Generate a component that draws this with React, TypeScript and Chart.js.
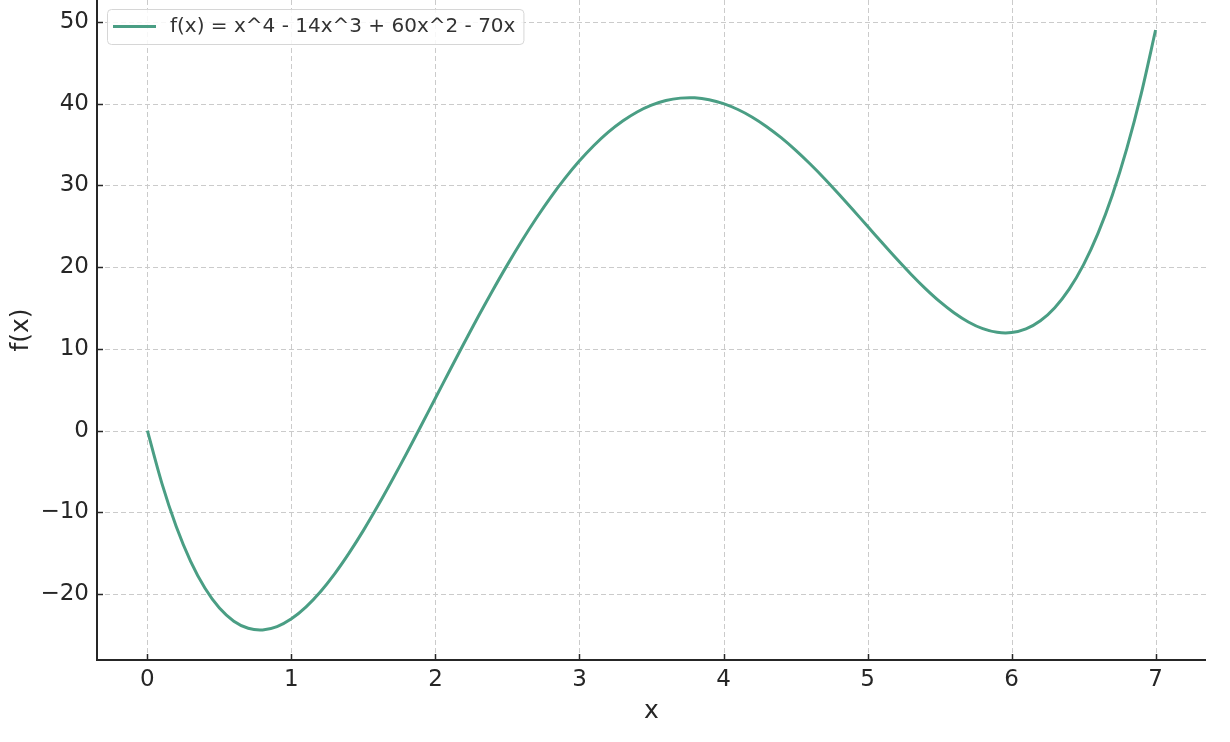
import React, { useEffect, useRef } from "react";
import { Chart, registerables } from "chart.js";

Chart.register(...registerables);

const xValues = [
  0, 0.1, 0.2, 0.3, 0.4, 0.5, 0.6, 0.7, 0.8, 0.9,
  1.0, 1.1, 1.2, 1.3, 1.4, 1.5, 1.6, 1.7, 1.8, 1.9,
  2.0, 2.1, 2.2, 2.3, 2.4, 2.5, 2.6, 2.7, 2.8, 2.9,
  3.0, 3.1, 3.2, 3.3, 3.4, 3.5, 3.6, 3.7, 3.8, 3.9,
  4.0, 4.1, 4.2, 4.3, 4.4, 4.5, 4.6, 4.7, 4.8, 4.9,
  5.0, 5.1, 5.2, 5.3, 5.4, 5.5, 5.6, 5.7, 5.8, 5.9,
  6.0, 6.1, 6.2, 6.3, 6.4, 6.5, 6.6, 6.7, 6.8, 6.9,
  7.0,
];

const fValues = [
  0, -6.41, -11.71, -15.97, -19.27, -21.69, -23.29, -24.16, -24.36, -23.95,
  -23.0, -21.57, -19.72, -17.5, -14.97, -12.19, -9.19, -6.03, -2.75, 0.61,
  4.0, 7.39, 10.75, 14.05, 17.24, 20.31, 23.23, 25.98, 28.54, 30.88,
  33.0, 34.88, 36.51, 37.87, 38.98, 39.81, 40.38, 40.67, 40.71, 40.48,
  40.0, 39.28, 38.34, 37.18, 35.83, 34.31, 32.64, 30.85, 28.95, 26.99,
  25.0, 23.01, 21.05, 19.17, 17.41, 15.81, 14.43, 13.3, 12.48, 12.03,
  12.0, 12.45, 13.44, 15.04, 17.31, 20.31, 24.13, 28.83, 34.49, 41.19,
  49.0,
];

const xTicks = [0, 1, 2, 3, 4, 5, 6, 7];
const yTicks = [-20, -10, 0, 10, 20, 30, 40, 50];
const seriesLabel = "f(x) = x^4 - 14x^3 + 60x^2 - 70x";
const xTitle = "x";
const yTitle = "f(x)";

const LINE_COLOR = "#4a9e84";
const TEXT_COLOR = "#262626";
const FONT = "'DejaVu Sans', sans-serif";

const decorPlugin = {
  id: "decor",
  beforeDatasetsDraw(chart: any) {
    const { ctx, chartArea } = chart;
    const xs = chart.scales.x;
    const ys = chart.scales.y;
    ctx.save();
    ctx.strokeStyle = "#cbcbcb";
    ctx.lineWidth = 1;
    ctx.setLineDash([5, 3]);
    for (const t of xTicks) {
      const px = Math.round(xs.getPixelForValue(t)) + 0.5;
      ctx.beginPath();
      ctx.moveTo(px, chartArea.top);
      ctx.lineTo(px, chartArea.bottom);
      ctx.stroke();
    }
    for (const t of yTicks) {
      const py = Math.round(ys.getPixelForValue(t)) + 0.5;
      ctx.beginPath();
      ctx.moveTo(chartArea.left, py);
      ctx.lineTo(chartArea.right, py);
      ctx.stroke();
    }
    ctx.restore();
  },
  afterDatasetsDraw(chart: any) {
    const { ctx, chartArea } = chart;
    const xs = chart.scales.x;
    const ys = chart.scales.y;
    ctx.save();
    ctx.setLineDash([]);
    ctx.strokeStyle = TEXT_COLOR;
    ctx.lineWidth = 2;
    // spines
    ctx.beginPath();
    ctx.moveTo(chartArea.left, chartArea.top);
    ctx.lineTo(chartArea.left, chartArea.bottom);
    ctx.lineTo(chartArea.right, chartArea.bottom);
    ctx.stroke();
    // inward ticks
    ctx.lineWidth = 1.5;
    for (const t of xTicks) {
      const px = Math.round(xs.getPixelForValue(t)) + 0.5;
      ctx.beginPath();
      ctx.moveTo(px, chartArea.bottom);
      ctx.lineTo(px, chartArea.bottom - 6);
      ctx.stroke();
    }
    for (const t of yTicks) {
      const py = Math.round(ys.getPixelForValue(t)) + 0.5;
      ctx.beginPath();
      ctx.moveTo(chartArea.left, py);
      ctx.lineTo(chartArea.left + 6, py);
      ctx.stroke();
    }
    // legend
    const bx = chartArea.left + 10;
    const by = chartArea.top + 9;
    ctx.font = `20px ${FONT}`;
    const tw = ctx.measureText(seriesLabel).width;
    const bw = 63 + tw + 8;
    const bh = 35;
    ctx.beginPath();
    ctx.roundRect(bx + 0.5, by + 0.5, bw, bh, 4);
    ctx.fillStyle = "rgba(255,255,255,0.85)";
    ctx.fill();
    ctx.strokeStyle = "#d6d6d6";
    ctx.lineWidth = 1;
    ctx.stroke();
    ctx.strokeStyle = LINE_COLOR;
    ctx.lineWidth = 3;
    ctx.beginPath();
    ctx.moveTo(bx + 6, by + 17.5);
    ctx.lineTo(bx + 49, by + 17.5);
    ctx.stroke();
    ctx.fillStyle = "#333333";
    ctx.textBaseline = "middle";
    ctx.textAlign = "left";
    ctx.fillText(seriesLabel, bx + 63, by + 18);
    ctx.restore();
  },
};

const fmt = (v: number) => (v < 0 ? "\u2212" + Math.abs(v) : String(v));

export default function App() {
  const canvasRef = useRef<HTMLCanvasElement | null>(null);

  useEffect(() => {
    if (!canvasRef.current) return;
    const points = xValues.map((x, i) => ({ x, y: fValues[i] }));
    const chart = new Chart(canvasRef.current, {
      type: "line",
      data: {
        datasets: [
          {
            label: seriesLabel,
            data: points,
            borderColor: LINE_COLOR,
            borderWidth: 3,
            pointRadius: 0,
            tension: 0.3,
            fill: false,
          },
        ],
      },
      options: {
        animation: false,
        responsive: false,
        maintainAspectRatio: false,
        layout: { padding: { top: 0, right: 24, left: 0, bottom: 0 } },
        plugins: {
          legend: { display: false },
          tooltip: { enabled: false },
        },
        scales: {
          x: {
            type: "linear",
            min: -0.35,
            max: 7.35,
            grid: { display: false, drawTicks: false },
            border: { display: false },
            afterBuildTicks: (s: any) => {
              s.ticks = xTicks.map((v) => ({ value: v }));
            },
            afterFit: (s: any) => {
              s.height = 82;
              s.paddingLeft = 0;
              s.paddingRight = 0;
            },
            ticks: {
              color: TEXT_COLOR,
              font: { family: FONT, size: 23 },
              padding: 6,
              maxRotation: 0,
              callback: (v: any) => fmt(Number(v)),
            },
            title: {
              display: true,
              text: xTitle,
              color: TEXT_COLOR,
              font: { family: FONT, size: 25 },
              padding: { top: 0, bottom: 16 },
            },
          },
          y: {
            type: "linear",
            min: -28.04,
            max: 52.67,
            grid: { display: false, drawTicks: false },
            border: { display: false },
            afterBuildTicks: (s: any) => {
              s.ticks = yTicks.map((v) => ({ value: v }));
            },
            afterFit: (s: any) => {
              s.width = 97;
              s.paddingTop = 0;
              s.paddingBottom = 0;
            },
            ticks: {
              color: TEXT_COLOR,
              font: { family: FONT, size: 23 },
              padding: 8,
              callback: (v: any) => fmt(Number(v)),
            },
            title: {
              display: true,
              text: yTitle,
              color: TEXT_COLOR,
              font: { family: FONT, size: 25 },
              padding: { top: 6, bottom: 0 },
            },
          },
        },
      },
      plugins: [decorPlugin],
    });
    return () => chart.destroy();
  }, []);

  return (
    <div style={{ position: "fixed", left: 0, top: 0, width: 1230, height: 742, background: "#fff" }}>
      <canvas ref={canvasRef} width={1230} height={742} style={{ width: 1230, height: 742 }} />
    </div>
  );
}
